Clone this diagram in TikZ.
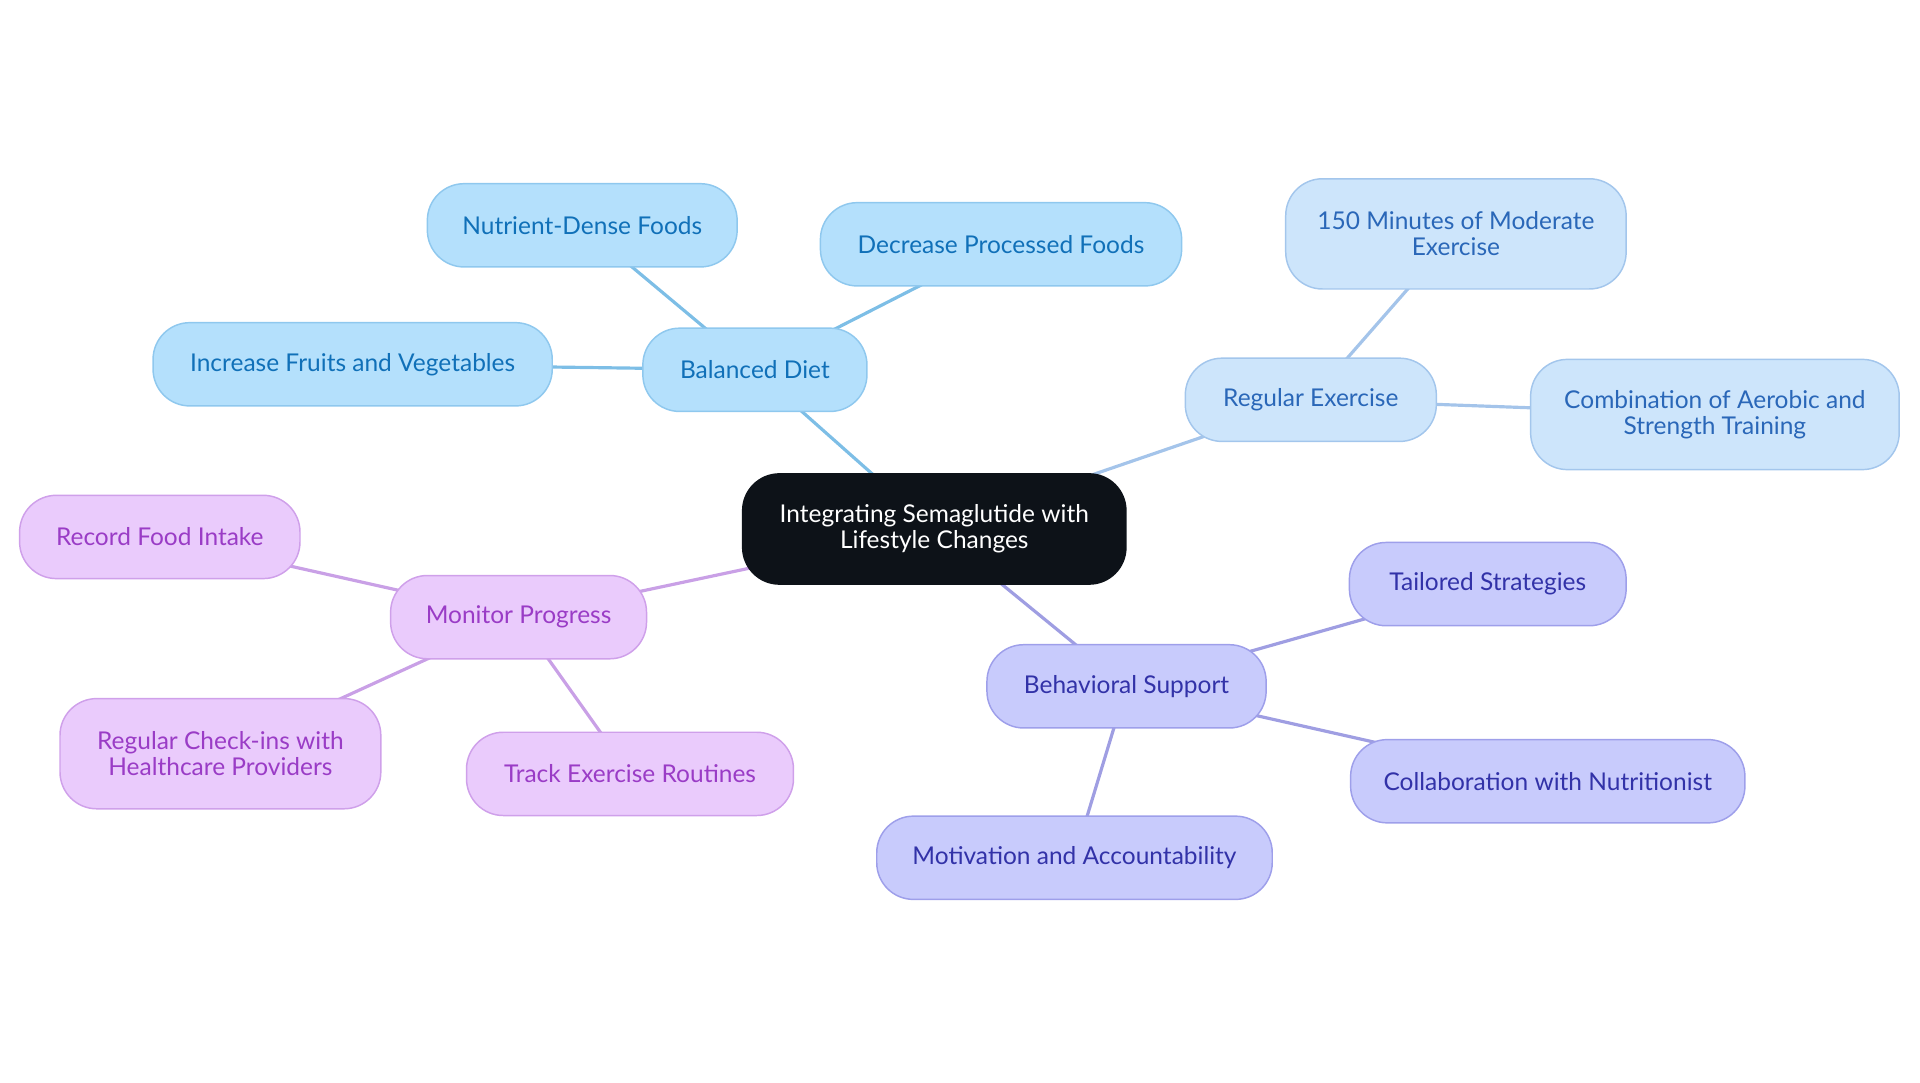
\documentclass[tikz,border=0pt]{standalone}
\usepackage{fontspec}
\setmainfont{Lato}
\usetikzlibrary{backgrounds}

\definecolor{rootfill}{HTML}{0D1218}
\definecolor{dietfill}{HTML}{B4E0FC}
\definecolor{dietdraw}{HTML}{8FC8EE}
\definecolor{diettext}{HTML}{1070B8}
\definecolor{dietline}{HTML}{7DBEE6}
\definecolor{exfill}{HTML}{CDE5FB}
\definecolor{exdraw}{HTML}{A3C6EC}
\definecolor{extext}{HTML}{2A67B8}
\definecolor{exline}{HTML}{A4C4EA}
\definecolor{monfill}{HTML}{EACBFC}
\definecolor{mondraw}{HTML}{CFA0EA}
\definecolor{montext}{HTML}{9A3CC6}
\definecolor{monline}{HTML}{C9A0E6}
\definecolor{supfill}{HTML}{C8CBFC}
\definecolor{supdraw}{HTML}{9E9FEA}
\definecolor{suptext}{HTML}{3232A8}
\definecolor{supline}{HTML}{9F9EE2}

\begin{document}
\begin{tikzpicture}[x=0.5pt, y=-0.5pt]
    % Define styles
    \tikzset{
        box/.style={
            draw,
            rounded corners=15pt,
            line width=0.6pt,
            minimum height=34pt,
            inner xsep=8pt,
            align=center,
            font=\fontsize{10}{10.5}\selectfont
        },
        tall/.style={minimum height=45pt},
        root/.style={box, tall, fill=rootfill, draw=rootfill, text=white},
        diet/.style={box, fill=dietfill, draw=dietdraw, text=diettext},
        exercise/.style={box, fill=exfill, draw=exdraw, text=extext},
        monitor/.style={box, fill=monfill, draw=mondraw, text=montext},
        support/.style={box, fill=supfill, draw=supdraw, text=suptext},
        link/.style={line width=1.3pt}
    }
    \useasboundingbox (0,0) rectangle (1568,884);

    % Central topic
    \node[root, minimum width=156.5pt] (root) at (763,432) {Integrating Semaglutide with\\Lifestyle Changes};

    % Balanced diet branch
    \node[diet, minimum width=91.5pt] (diet) at (616.5,302) {Balanced Diet};
    \node[diet, minimum width=126.5pt] (dense) at (475.5,184) {Nutrient-Dense Foods};
    \node[diet, minimum width=147.5pt] (processed) at (817.5,199.5) {Decrease Processed Foods};
    \node[diet, minimum width=163pt] (fruits) at (288,297.5) {Increase Fruits and Vegetables};

    % Exercise branch
    \node[exercise, minimum width=102.5pt] (exercise) at (1070.5,326.5) {Regular Exercise};
    \node[exercise, tall, minimum width=139pt] (minutes) at (1189,191) {150 Minutes of Moderate\\Exercise};
    \node[exercise, tall, minimum width=150.5pt] (aerobic) at (1400.5,338.5) {Combination of Aerobic and\\Strength Training};

    % Monitoring branch
    \node[monitor, minimum width=104.5pt] (monitor) at (423.5,504) {Monitor Progress};
    \node[monitor, minimum width=114.5pt] (record) at (130.5,438.5) {Record Food Intake};
    \node[monitor, tall, minimum width=131pt] (checkins) at (180,615.5) {Regular Check-ins with\\Healthcare Providers};
    \node[monitor, minimum width=133.5pt] (track) at (514.5,632) {Track Exercise Routines};

    % Support branch
    \node[support, minimum width=114pt] (support) at (920,560.5) {Behavioral Support};
    \node[support, minimum width=113pt] (tailored) at (1215,477) {Tailored Strategies};
    \node[support, minimum width=161pt] (nutritionist) at (1264,638) {Collaboration with Nutritionist};
    \node[support, minimum width=161.5pt] (motivation) at (877.5,700.5) {Motivation and Accountability};

    % Connections
    \begin{scope}[on background layer]
        \draw[link, dietline] (root.center) -- (diet.center);
        \draw[link, dietline] (diet.center) -- (dense.center);
        \draw[link, dietline] (diet.center) -- (processed.center);
        \draw[link, dietline] (diet.center) -- (fruits.center);
        \draw[link, exline] (root.center) -- (exercise.center);
        \draw[link, exline] (exercise.center) -- (minutes.center);
        \draw[link, exline] (exercise.center) -- (aerobic.center);
        \draw[link, monline] (root.center) -- (monitor.center);
        \draw[link, monline] (monitor.center) -- (record.center);
        \draw[link, monline] (monitor.center) -- (checkins.center);
        \draw[link, monline] (monitor.center) -- (track.center);
        \draw[link, supline] (root.center) -- (support.center);
        \draw[link, supline] (support.center) -- (tailored.center);
        \draw[link, supline] (support.center) -- (nutritionist.center);
        \draw[link, supline] (support.center) -- (motivation.center);
    \end{scope}
\end{tikzpicture}
\end{document}
